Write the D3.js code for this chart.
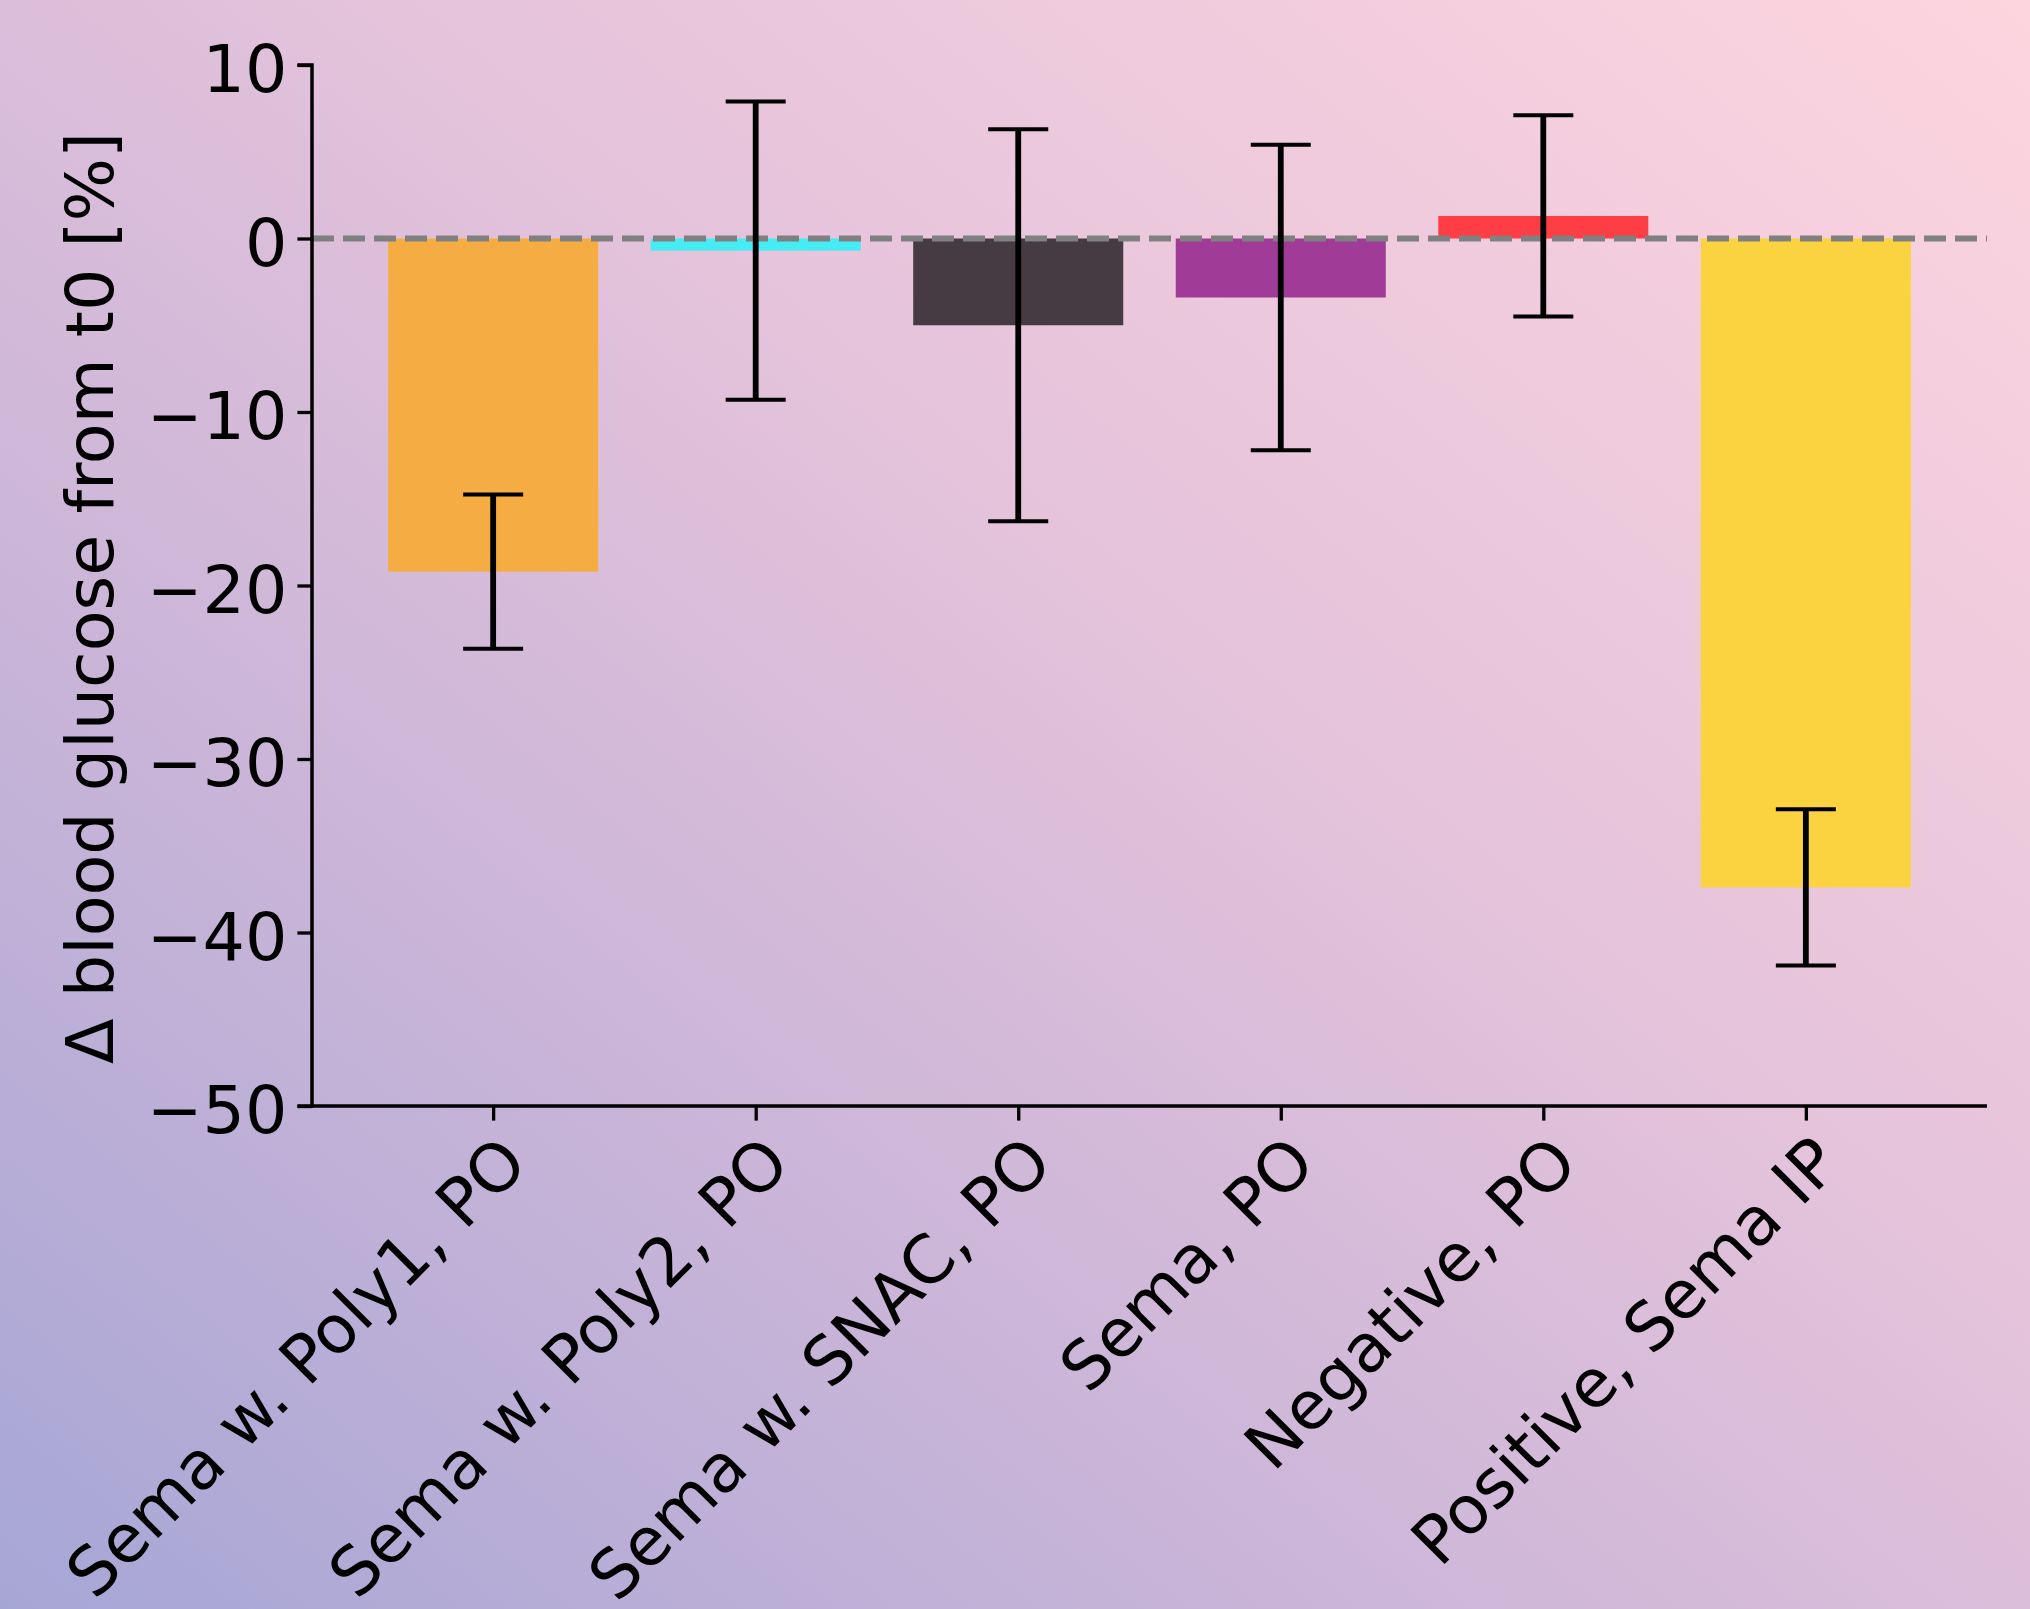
<!DOCTYPE html>
<html>
<head>
<meta charset="utf-8">
<script src="https://cdn.jsdelivr.net/npm/d3@7"></script>
<style>
  html, body { margin: 0; padding: 0; }
  body { width: 2030px; height: 1609px; overflow: hidden; }
  text { font-family: "DejaVu Sans", sans-serif; fill: #000; }
</style>
</head>
<body>
<svg id="chart" width="2030" height="1609"></svg>
<script>
const categories = ["Sema w. Poly1, PO", "Sema w. Poly2, PO", "Sema w. SNAC, PO", "Sema, PO", "Negative, PO", "Positive, Sema IP"];
const means = [-19.2, -0.7, -5.0, -3.4, 1.3, -37.4];
const errors = [4.45, 8.6, 11.3, 8.8, 5.8, 4.5];
const barColors = ["#F5AC42", "#45ECF4", "#463B42", "#A03C98", "#FE3D44", "#FBD23F"];
const yTicks = [10, 0, -10, -20, -30, -40, -50];
const yLabel = "Δ blood glucose from t0 [%]";

const W = 2030, H = 1609;
const svg = d3.select("#chart");

// background gradient
const defs = svg.append("defs");
const grad = defs.append("linearGradient").attr("id", "bg")
  .attr("x1", "0").attr("y1", "1").attr("x2", "1").attr("y2", "0");
[[0, "#A6A6D5"], [0.3, "#C8B4D8"], [0.6, "#E5C3DB"], [1, "#FDD5DF"]].forEach(([o, c]) =>
  grad.append("stop").attr("offset", o).attr("stop-color", c));
svg.append("rect").attr("width", W).attr("height", H).attr("fill", "url(#bg)");

const x0 = 312, x1 = 1987, yTop = 65, yBot = 1106;
const x = d3.scaleLinear().domain([-0.69, 5.69]).range([x0, x1]);
const y = d3.scaleLinear().domain([-50, 10]).range([yBot, yTop]);
const bw = 0.8;
const fs = 66.7;

const data = categories.map((c, i) => ({ c, i, m: means[i], e: errors[i], col: barColors[i] }));

// bars
svg.append("g").selectAll("rect").data(data).join("rect")
  .attr("x", d => x(d.i - bw / 2))
  .attr("width", d => x(d.i + bw / 2) - x(d.i - bw / 2))
  .attr("y", d => y(Math.max(0, d.m)))
  .attr("height", d => Math.abs(y(d.m) - y(0)))
  .attr("fill", d => d.col);

// zero dashed line
svg.append("line")
  .attr("x1", x0).attr("x2", x1)
  .attr("y1", y(0)).attr("y2", y(0))
  .attr("stroke", "#808080").attr("stroke-width", 6)
  .attr("stroke-dasharray", "22,9");

// error bars
const eg = svg.append("g").attr("stroke", "#000");
eg.selectAll("line.v").data(data).join("line").attr("class", "v")
  .attr("x1", d => x(d.i)).attr("x2", d => x(d.i))
  .attr("y1", d => y(d.m + d.e)).attr("y2", d => y(d.m - d.e))
  .attr("stroke-width", 5.8);
const capW = 30;
["top", "bot"].forEach(k => {
  eg.selectAll("line." + k).data(data).join("line").attr("class", k)
    .attr("x1", d => x(d.i) - capW).attr("x2", d => x(d.i) + capW)
    .attr("y1", d => y(k === "top" ? d.m + d.e : d.m - d.e))
    .attr("y2", d => y(k === "top" ? d.m + d.e : d.m - d.e))
    .attr("stroke-width", 4);
});

// y axis
const yAxis = d3.axisLeft(y).tickValues(yTicks).tickSize(14.6).tickPadding(10)
  .tickFormat(d => d < 0 ? "\u2212" + Math.abs(d) : String(d));
const ya = svg.append("g").attr("transform", `translate(${x0},0)`).call(yAxis);
ya.select(".domain").attr("stroke-width", 3.5).attr("d", `M-14.6,${yTop}H0V${yBot}H-14.6`);
ya.selectAll(".tick line").attr("stroke-width", 3.3);
ya.selectAll(".tick text").attr("font-size", fs).attr("font-family", "DejaVu Sans").attr("dy", "0.4em");

// x axis
const xAxis = d3.axisBottom(x).tickValues(d3.range(categories.length)).tickSize(14.6).tickFormat(() => "");
const xa = svg.append("g").attr("transform", `translate(0,${yBot})`).call(xAxis);
xa.select(".domain").attr("stroke-width", 3.5).attr("d", `M${x0},0H${x1}`);
xa.selectAll(".tick line").attr("stroke-width", 3.3);

// rotated x labels
svg.append("g").selectAll("text").data(data).join("text")
  .attr("transform", d => `translate(${x(d.i) + 37},${1166}) rotate(-45)`)
  .attr("text-anchor", "end")
  .attr("font-size", fs)
  .text(d => d.c);

// y label
svg.append("text")
  .attr("transform", `translate(113,598) rotate(-90)`)
  .attr("text-anchor", "middle")
  .attr("font-size", fs)
  .text(yLabel);
</script>
</body>
</html>
